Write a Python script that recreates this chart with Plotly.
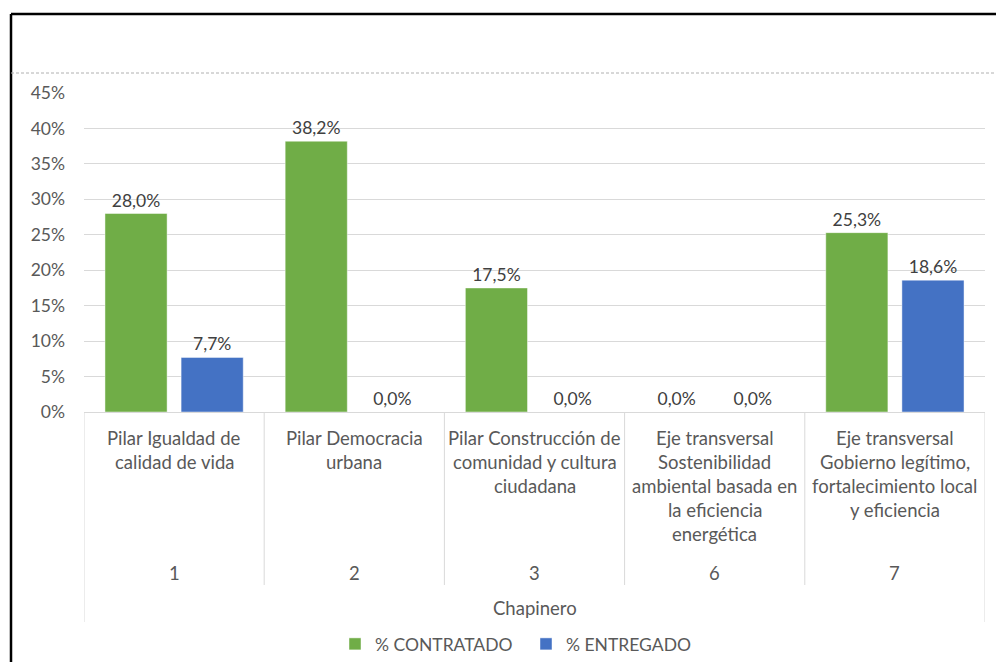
import plotly.graph_objects as go

# ---- data ----
codes = ["1", "2", "3", "6", "7"]
descriptions = [
    "Pilar Igualdad de\ncalidad de vida",
    "Pilar Democracia\nurbana",
    "Pilar Construcción de\ncomunidad y cultura\nciudadana",
    "Eje transversal\nSostenibilidad\nambiental basada en\nla eficiencia\nenergética",
    "Eje transversal\nGobierno legítimo,\nfortalecimiento local\ny eficiencia",
]
group_label = "Chapinero"
contratado = [0.280, 0.382, 0.175, 0.0, 0.253]
entregado = [0.077, 0.0, 0.0, 0.0, 0.186]
series_names = ["% CONTRATADO", "% ENTREGADO"]
y_ticks = [0, 0.05, 0.10, 0.15, 0.20, 0.25, 0.30, 0.35, 0.40, 0.45]

# ---- layout geometry ----
W, H = 996, 662
L, R, T, B = 84, 11, 93, 250
PH = H - T - B  # plot height in px
PW = W - L - R


def py(p):  # pixel y -> paper y
    return (H - B - p) / PH


def px(p):  # pixel x -> paper x
    return (p - L) / PW


FONT = "Lato"
TXT = "#595959"
FS = 17.5
FS_CAT = 18.5
GREEN = "#70AD47"
BLUE = "#4472C4"

fig = go.Figure()
fig.add_trace(go.Bar(
    name=series_names[0], x=codes, y=contratado,
    marker=dict(color=GREEN, line=dict(color="rgba(255,255,255,0.45)", width=1)),
    text=contratado, texttemplate="%{y:.1%}", textposition="outside",
    textfont=dict(family=FONT, size=FS, color="#404040"), cliponaxis=False,
))
fig.add_trace(go.Bar(
    name=series_names[1], x=codes, y=entregado,
    marker=dict(color=BLUE, line=dict(color="rgba(255,255,255,0.45)", width=1)),
    text=entregado, texttemplate="%{y:.1%}", textposition="outside",
    textfont=dict(family=FONT, size=FS, color="#404040"), cliponaxis=False,
))

shapes = []
n = len(codes)
# category separators
for i in range(n + 1):
    outer = i == 0 or i == n
    shapes.append(dict(type="line", xref="x", yref="paper",
                       x0=i - 0.5, x1=i - 0.5, y0=0, y1=py(622 if outer else 585),
                       line=dict(color="#d9d9d9", width=1)))
# frame lines (chart border) and dashed title separator
shapes.append(dict(type="line", xref="paper", yref="paper",
                   x0=px(11), x1=px(1000), y0=py(14), y1=py(14),
                   line=dict(color="black", width=2.5)))
shapes.append(dict(type="line", xref="paper", yref="paper",
                   x0=px(11), x1=px(11), y0=py(14), y1=py(670),
                   line=dict(color="black", width=2.5)))
shapes.append(dict(type="line", xref="paper", yref="paper",
                   x0=px(11), x1=px(1000), y0=py(73), y1=py(73),
                   line=dict(color="#b0b0b0", width=1, dash="3px,2px")))

annotations = []
for i, desc in enumerate(descriptions):
    for j, line in enumerate(desc.split("\n")):
        annotations.append(dict(xref="x", yref="paper", x=i, y=py(438 + 24 * j),
                                text=line, showarrow=False, yanchor="middle",
                                font=dict(family=FONT, size=FS_CAT, color=TXT)))
    annotations.append(dict(xref="x", yref="paper", x=i, y=py(573), text=codes[i],
                            showarrow=False, yanchor="middle",
                            font=dict(family=FONT, size=FS_CAT, color=TXT)))
annotations.append(dict(xref="paper", yref="paper", x=0.5, y=py(608), text=group_label,
                        showarrow=False, yanchor="middle",
                        font=dict(family=FONT, size=FS_CAT, color=TXT)))

fig.update_layout(
    width=W, height=H,
    margin=dict(l=L, r=R, t=T, b=B, autoexpand=False),
    paper_bgcolor="white", plot_bgcolor="white",
    separators=",.",
    barmode="group", bargap=0.155, bargroupgap=0.184,
    font=dict(family=FONT, size=FS, color=TXT),
    showlegend=True,
    legend=dict(orientation="h", x=px(335), xanchor="left", y=py(644), yanchor="middle",
                font=dict(family=FONT, size=FS, color=TXT), itemclick=False,
                entrywidth=146, traceorder="normal"),
    shapes=shapes, annotations=annotations,
    xaxis=dict(type="category", range=[-0.5, n - 0.5], showticklabels=False,
               showgrid=False, zeroline=False, showline=True, linecolor="#d9d9d9",
               linewidth=1, ticks=""),
    yaxis=dict(range=[0, 0.45], tickvals=y_ticks, tickformat=".0%",
               showgrid=True, gridcolor="#d9d9d9", gridwidth=1, zeroline=False,
               showline=False, ticks="", ticklabelstandoff=18,
               tickfont=dict(family=FONT, size=FS, color=TXT)),
)

fig.write_html("out.html", config={"displayModeBar": False},
               post_script="document.body.style.margin='0';")
